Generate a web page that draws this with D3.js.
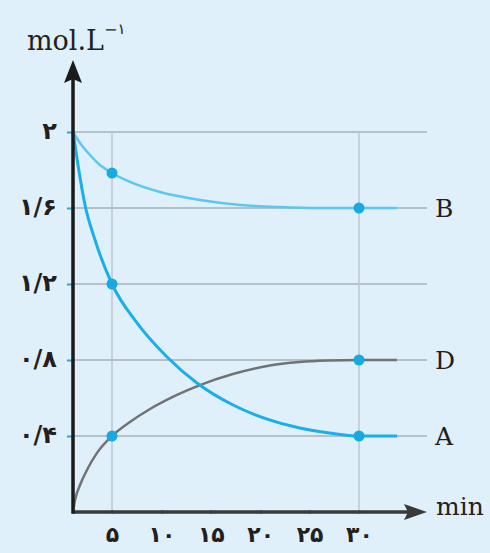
<!DOCTYPE html>
<html>
<head>
<meta charset="utf-8">
<script src="https://cdn.jsdelivr.net/npm/d3@7"></script>
<style>
    body { margin: 0; background: #e0f0fa; }
    svg { display: block; }
    .y-lab text, .x-lab text { font-family: 'DejaVu Sans', sans-serif; font-weight: bold; fill: #231f20; }
    .latin { font-family: 'DejaVu Serif', serif; fill: #231f20; }
</style>
</head>
<body>
<div id="chart"></div>
<script>
// time (min) and concentration
const timesA = [0, 0.64, 1.54, 2.82, 5, 7.53, 10.57, 13.6, 17.25, 20.7, 24, 27, 30, 33.85];
const valuesA = [2, 1.826, 1.616, 1.432, 1.2, 0.995, 0.816, 0.679, 0.563, 0.489, 0.442, 0.416, 0.4, 0.4];

const timesB = [0, 0.9, 2.18, 3.46, 5, 6.82, 9.86, 13.9, 18, 22, 26.05, 30, 33.85];
const valuesB = [2, 1.942, 1.879, 1.826, 1.784, 1.737, 1.684, 1.642, 1.616, 1.605, 1.6, 1.6, 1.6];

const timesD = [0, 0.26, 0.9, 1.79, 3.08, 5, 6.82, 8.85, 11.58, 13.9, 17.25, 20.7, 24, 27, 30, 33.85];
const valuesD = [0, 0.063, 0.142, 0.221, 0.311, 0.4, 0.474, 0.542, 0.616, 0.668, 0.726, 0.768, 0.789, 0.797, 0.8, 0.8];

// marked points
const dotTimes = [5, 5, 5, 30, 30, 30];
const dotValues = [1.784, 1.2, 0.4, 1.6, 0.8, 0.4];

const yTicks = [0.4, 0.8, 1.2, 1.6, 2];
const yTickLabels = ['۰/۴', '۰/۸', '۱/۲', '۱/۶', '۲'];
const xTicks = [5, 10, 15, 20, 25, 30];
const xTickLabels = ['۵', '۱۰', '۱۵', '۲۰', '۲۵', '۳۰'];

const seriesNames = ['B', 'D', 'A'];
const seriesEnd = [1.6, 0.8, 0.4];

// ******************************* //
// SVG
// ******************************* //
const width = 490, height = 553;
const svg = d3.select('#chart').append('svg')
    .attr('width', width).attr('height', height);

svg.append('rect').attr('width', width).attr('height', height).attr('fill', '#e0f0fa');

// SCALES (the figure is not drawn to scale before t = 5)
const x = d3.scaleLinear().domain([0, 5, 30]).range([73, 112, 359]);
const y = d3.scaleLinear().domain([0, 2]).range([512, 132]);

const xEnd = 427;   // arrow tip of time axis
const yTop = 60;    // arrow tip of concentration axis

// GRID
svg.append('g').selectAll('line').data(yTicks).join('line')
    .attr('x1', x(0)).attr('x2', xEnd)
    .attr('y1', d => y(d)).attr('y2', d => y(d))
    .attr('stroke', '#a9b1b8').attr('stroke-width', 1.5);

svg.append('g').selectAll('line').data([5, 30]).join('line')
    .attr('x1', d => x(d)).attr('x2', d => x(d))
    .attr('y1', y(2)).attr('y2', y(0))
    .attr('stroke', '#bcc8d0').attr('stroke-width', 1.5);

// Y AXIS LABELS
const yAxis = d3.axisLeft(y)
    .tickValues(yTicks)
    .tickSize(6)
    .tickPadding(10)
    .tickFormat((d, i) => yTickLabels[i]);

svg.append('g').attr('class', 'y-lab')
    .attr('transform', `translate(${x(0)},0)`)
    .call(yAxis)
    .call(g => g.select('.domain').remove())
    .call(g => g.selectAll('line').attr('stroke', '#35a6da').attr('stroke-width', 2))
    .call(g => g.selectAll('text').attr('font-size', 24).attr('dy', '0.25em'));

// X AXIS LABELS
const xAxis = d3.axisBottom(x)
    .tickValues(xTicks)
    .tickSize(4)
    .tickPadding(12)
    .tickFormat((d, i) => xTickLabels[i]);

svg.append('g').attr('class', 'x-lab')
    .attr('transform', `translate(0,${y(0) - 2})`)
    .call(xAxis)
    .call(g => g.select('.domain').remove())
    .call(g => g.selectAll('line').attr('stroke', '#35a6da').attr('stroke-width', 2))
    .call(g => g.selectAll('text').attr('font-size', 22));

// CURVES
const line = d3.line()
    .x(d => x(d[0]))
    .y(d => y(d[1]))
    .curve(d3.curveMonotoneX);

const curves = [
    { t: timesB, v: valuesB, color: '#5ec7f1', w: 2.5 },
    { t: timesD, v: valuesD, color: '#707275', w: 2.5 },
    { t: timesA, v: valuesA, color: '#1aaeea', w: 3 },
];

svg.append('g').selectAll('path').data(curves).join('path')
    .attr('d', c => line(c.t.map((t, i) => [t, c.v[i]])))
    .attr('fill', 'none')
    .attr('stroke', c => c.color)
    .attr('stroke-width', c => c.w);

// AXES LINES + ARROWS
svg.append('line')
    .attr('x1', x(0)).attr('x2', xEnd - 10)
    .attr('y1', y(0)).attr('y2', y(0))
    .attr('stroke', '#3a3a3a').attr('stroke-width', 3.5);
svg.append('line')
    .attr('x1', x(0)).attr('x2', x(0))
    .attr('y1', y(0) + 1.75).attr('y2', yTop + 10)
    .attr('stroke', '#1a1a1a').attr('stroke-width', 3.5);

svg.append('path')
    .attr('d', `M${x(0)},${yTop} L${x(0) + 9},${yTop + 23} L${x(0)},${yTop + 19} L${x(0) - 9},${yTop + 23} Z`)
    .attr('fill', '#1a1a1a');
svg.append('path')
    .attr('d', `M${xEnd},${y(0)} L${xEnd - 23},${y(0) - 8} L${xEnd - 19},${y(0)} L${xEnd - 23},${y(0) + 8} Z`)
    .attr('fill', '#3a3a3a');

// DOTS
svg.append('g').selectAll('circle').data(dotTimes).join('circle')
    .attr('cx', d => x(d))
    .attr('cy', (d, i) => y(dotValues[i]))
    .attr('r', 5.5)
    .attr('fill', '#19a9e2');

// SERIES LABELS
svg.append('g').selectAll('text').data(seriesNames).join('text')
    .attr('class', 'latin')
    .attr('x', 435)
    .attr('y', (d, i) => y(seriesEnd[i]))
    .attr('dy', '0.36em')
    .attr('font-size', 25)
    .text(d => d);

// AXIS TITLES
const yTitle = svg.append('text').attr('class', 'latin')
    .attr('x', 27).attr('y', 50).attr('font-size', 27);
yTitle.append('tspan').text('mol.L');
yTitle.append('tspan').attr('font-size', 16).attr('dy', -15).text('−');
yTitle.append('tspan').attr('font-size', 15).attr('dy', -1)
    .style('font-family', 'DejaVu Sans').text('۱');

svg.append('text').attr('class', 'latin')
    .attr('x', 436).attr('y', 515).attr('font-size', 25)
    .text('min');
</script>
</body>
</html>
